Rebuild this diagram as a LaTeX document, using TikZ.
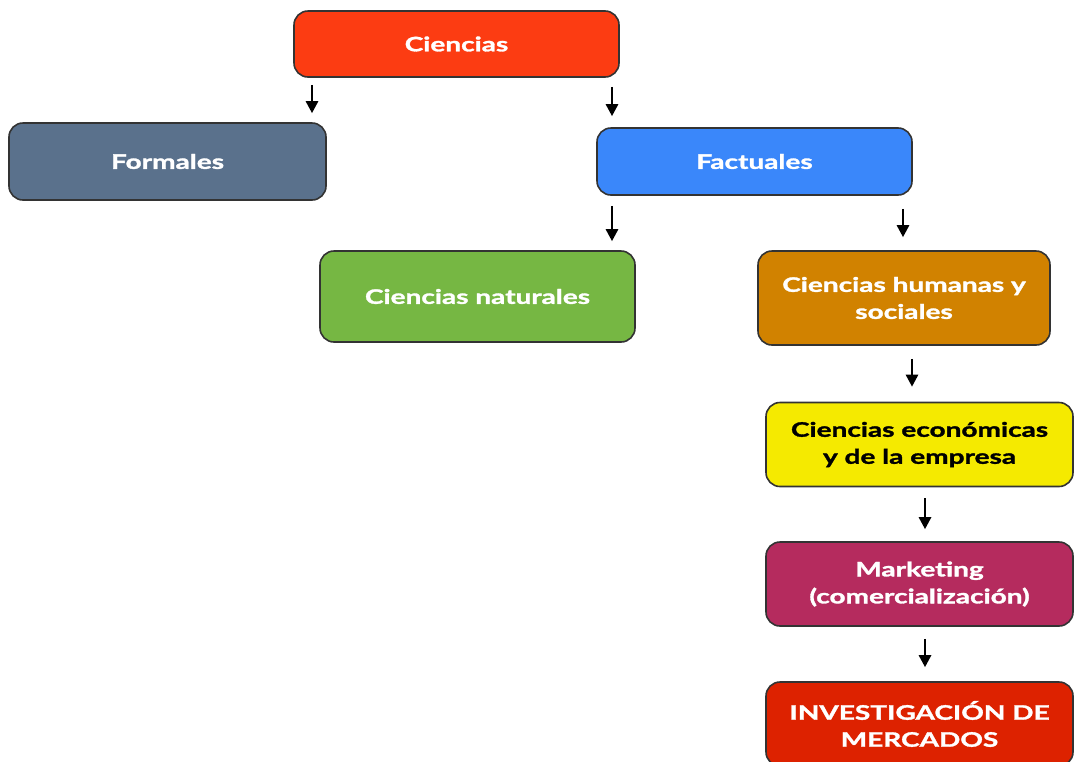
\documentclass[tikz,border=0pt]{standalone}
\usepackage{fontspec}
\setmainfont{Lato}[BoldFeatures={FakeStretch=1.4,FakeBold=1.6}]
\usetikzlibrary{arrows.meta}
\definecolor{cRoot}{RGB}{252,60,18}
\definecolor{cFormal}{RGB}{90,113,140}
\definecolor{cFact}{RGB}{58,135,250}
\definecolor{cNat}{RGB}{118,183,67}
\definecolor{cHum}{RGB}{209,130,0}
\definecolor{cEcon}{RGB}{245,234,0}
\definecolor{cMkt}{RGB}{181,43,94}
\definecolor{cInv}{RGB}{221,34,0}
\begin{document}
\begin{tikzpicture}[x=1pt,y=-1pt,
  box/.style={draw=black!80, line width=1.6pt, rounded corners=14pt,
    text=white, align=center, inner sep=0pt,
    font=\bfseries\fontsize{20}{27}\selectfont},
  arr/.style={-{Triangle[length=12pt,width=12pt]}, line width=2.6pt}]
\useasboundingbox (0,0) rectangle (1075,761);
\clip (0,0) rectangle (1075,761);

% boxes
\node[box, fill=cRoot, minimum width=325pt, minimum height=66pt] (ciencias) at (456.5,44) {Ciencias};
\node[box, fill=cFormal, minimum width=317pt, minimum height=77pt] (formales) at (167.5,161.5) {Formales};
\node[box, fill=cFact, minimum width=315pt, minimum height=67pt] (factuales) at (754.5,161.5) {Factuales};
\node[box, fill=cNat, minimum width=315pt, minimum height=91pt] (naturales) at (477.5,296.5) {Ciencias naturales};
\node[box, fill=cHum, minimum width=292pt, minimum height=94pt] (humanas) at (904,298) {Ciencias humanas y\\sociales};
\node[box, fill=cEcon, text=black, minimum width=307pt, minimum height=84pt] (economicas) at (919.5,444.5) {Ciencias económicas\\y de la empresa};
\node[box, fill=cMkt, minimum width=307pt, minimum height=84pt] (marketing) at (919.5,584) {Marketing\\(comercialización)};
\node[box, fill=cInv, minimum width=307pt, minimum height=84pt] (investigacion) at (919.5,724) {INVESTIGACIÓN DE\\MERCADOS};

% arrow columns
\coordinate (xa) at (312,0);
\coordinate (xb) at (612,0);
\coordinate (xc) at (903,0);
\coordinate (xd) at (912,0);
\coordinate (xe) at (925,0);

% arrows
\draw[arr, shorten <=7pt, shorten >=9pt] (xa |- ciencias.south) -- (xa |- formales.north);
\draw[arr, shorten <=9pt, shorten >=11pt] (xb |- ciencias.south) -- (xb |- factuales.north);
\draw[arr, shorten <=10pt, shorten >=9pt] (xb |- factuales.south) -- (xb |- naturales.north);
\draw[arr, shorten <=13pt, shorten >=13pt] (xc |- factuales.south) -- (xc |- humanas.north);
\draw[arr, shorten <=13pt, shorten >=15pt] (xd |- humanas.south) -- (xd |- economicas.north);
\draw[arr, shorten <=11pt, shorten >=12pt] (xe |- economicas.south) -- (xe |- marketing.north);
\draw[arr, shorten <=12pt, shorten >=14pt] (xe |- marketing.south) -- (xe |- investigacion.north);
\end{tikzpicture}
\end{document}
